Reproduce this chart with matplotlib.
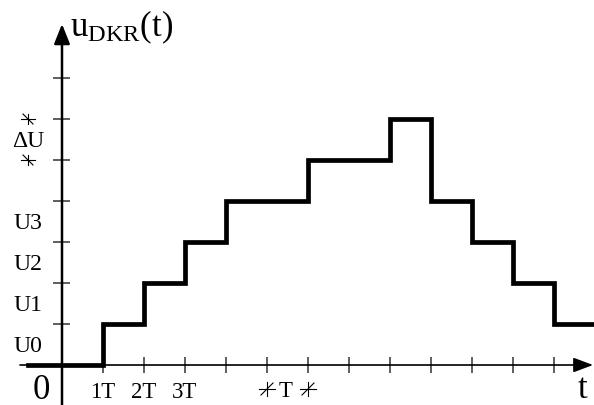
import matplotlib.pyplot as plt

plt.rcParams['font.family'] = ['Liberation Serif', 'DejaVu Serif']
plt.rcParams['mathtext.fontset'] = 'custom'
plt.rcParams['mathtext.rm'] = 'Liberation Serif'
plt.rcParams['mathtext.it'] = 'Liberation Serif:italic'

# staircase output of the DAC, time in units of T, level in units of dU
step_t = [-0.83, 1, 2, 3, 4, 6, 8, 9, 10, 11, 12, 13.5]
step_u = [0, 1, 2, 3, 4, 5, 6, 4, 3, 2, 1, 1]

x_ticks = list(range(1, 13))
x_labels = ['1T', '2T', '3T']
y_ticks = list(range(1, 8))
y_labels = ['U0', 'U1', 'U2', 'U3']

PX = 1 / 41.0  # one pixel in data units

fig = plt.figure(figsize=(5.94, 4.06), dpi=100)
ax = fig.add_axes([0, 0, 1, 1])
ax.set_xlim(-62 * PX, 532 * PX)
ax.set_ylim(-40 * PX, 366 * PX)
ax.axis('off')

# axes with arrow heads
ax.annotate('', xy=(0, 341 * PX), xytext=(0, -40 * PX),
            arrowprops=dict(arrowstyle='-|>,head_length=0.8,head_width=0.32',
                            lw=1.8, color='black', mutation_scale=15,
                            shrinkA=0, shrinkB=0))
ax.annotate('', xy=(531 * PX, 0), xytext=(-42 * PX, 0),
            arrowprops=dict(arrowstyle='-|>,head_length=0.8,head_width=0.3',
                            lw=1.2, color='black', mutation_scale=15,
                            shrinkA=0, shrinkB=0))

# tick marks
ax.vlines(x_ticks, -8 * PX, 8 * PX, color='#333333', lw=1.1)
ax.hlines(y_ticks, -9 * PX, 8 * PX, color='#333333', lw=1.1)

# signal
ax.step(step_t, step_u, where='post', color='black', lw=3.4,
        solid_joinstyle='miter')

# labels
for i, lab in enumerate(x_labels):
    ax.text(x_ticks[i], -32 * PX, lab, ha='center', va='baseline', fontsize=16.5)
for i, lab in enumerate(y_labels):
    ax.text(-34 * PX, i + 0.33, lab, ha='center', va='baseline', fontsize=17)
ax.text(-34 * PX, 5.33, '\u0394U', ha='center', va='baseline', fontsize=17)
ax.text(-21 * PX, -33 * PX, '0', ha='center', va='baseline', fontsize=25)
ax.text(521 * PX, -32 * PX, 't', ha='center', va='baseline', fontsize=25)
ax.text(224 * PX, -31 * PX, 'T', ha='center', va='baseline', fontsize=16.5)
ax.text(8 * PX, 8.05, r'$\mathrm{u_{DKR}(t)}$', ha='left', va='baseline',
        fontsize=25)


def dim_mark(x, y, sx, sy, diag):
    ax.plot([x - sx * PX, x + sx * PX], [y, y], color='black', lw=0.8)
    ax.plot([x, x], [y - sy * PX, y + sy * PX], color='black', lw=0.8)
    ax.plot([x - diag[0] * PX, x + diag[0] * PX],
            [y - diag[1] * PX, y + diag[1] * PX], color='black', lw=0.8)


# dimension marks for dU and T
dim_mark(-34 * PX, 5, 7, 5, (5, -5))
dim_mark(-34 * PX, 6, 7, 5, (5, -5))
dim_mark(5, -24 * PX, 8, 7, (6, 6))
dim_mark(6, -24 * PX, 8, 7, (6, 6))

fig.savefig('out.png', dpi=100)
